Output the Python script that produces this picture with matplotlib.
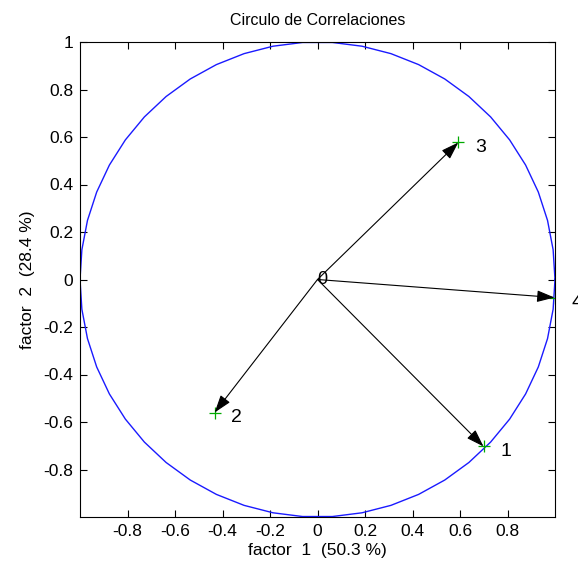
import numpy as np
import matplotlib
matplotlib.use("Agg")
import matplotlib.pyplot as plt

plt.rcParams['font.family'] = ['Liberation Sans', 'DejaVu Sans']

labels = ["1", "2", "3", "4"]
fx = [0.699, -0.433, 0.593, 0.998]
fy = [-0.703, -0.560, 0.577, -0.076]
xticks = [-0.8, -0.6, -0.4, -0.2, 0, 0.2, 0.4, 0.6, 0.8]
yticks = [-0.8, -0.6, -0.4, -0.2, 0, 0.2, 0.4, 0.6, 0.8, 1]

fig = plt.figure(figsize=(5.78, 5.67), dpi=100)
ax = fig.add_axes([80/578, 1-517/567, 475/578, 475/567])

t = np.linspace(0, 2*np.pi, 51)
ax.plot(np.cos(t), np.sin(t), color='#1a1aff', lw=1.0)

for x, y, lab in zip(fx, fy, labels):
    ax.annotate('', xy=(x, y), xytext=(0, 0),
                arrowprops=dict(arrowstyle='-|>,head_length=0.6,head_width=0.2',
                                color='black', lw=0.8,
                                mutation_scale=18, shrinkA=0, shrinkB=0))
    ax.plot([x], [y], marker='+', color='#00aa00', ms=9, mew=0.9)
    ax.text(x + 0.07, y - 0.02, lab, fontsize=14, ha='left', va='center', clip_on=False)

ax.text(0, 0, '0', fontsize=13, ha='left', va='center')

ax.set_xlim(-1, 1)
ax.set_ylim(-1, 1)
ax.set_xticks(xticks)
ax.set_yticks(yticks)
ax.set_xticklabels([f"{v:g}" for v in xticks])
ax.set_yticklabels([f"{v:g}" for v in yticks])
ax.tick_params(direction='in', top=True, right=True, length=5, labelsize=12.5, width=0.8, pad=5)
for s in ax.spines.values():
    s.set_linewidth(0.8)
ax.set_title('Circulo de Correlaciones', fontsize=11.5, pad=12)
ax.set_xlabel('factor  1  (50.3 %)', fontsize=12.5, labelpad=3)
ax.set_ylabel('factor  2  (28.4 %)', fontsize=12.5, labelpad=6)

fig.savefig('out.png', dpi=100)
